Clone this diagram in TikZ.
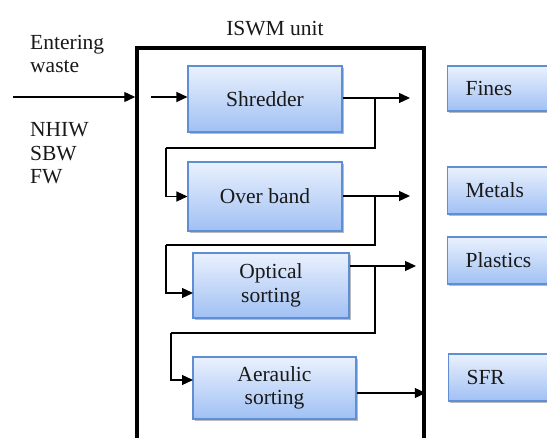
\documentclass[tikz,border=0pt]{standalone}
\usepackage{fontspec}
\setmainfont{Liberation Serif}
\usetikzlibrary{arrows.meta,shadows}
\definecolor{boxtop}{RGB}{234,241,253}
\definecolor{boxbot}{RGB}{160,192,244}
\definecolor{boxline}{RGB}{95,142,212}
\tikzset{
  txt/.style={font=\fontsize{21.5}{23.5}\selectfont, inner sep=0pt, text=black!90},
  pbox/.style={txt, draw=boxline, line width=1.1pt, top color=boxtop, bottom color=boxbot,
     align=center, drop shadow={shadow xshift=1.6pt, shadow yshift=-1.6pt, fill=black!45, opacity=0.6}},
  obox/.style={pbox, anchor=west, minimum height=46pt, text width=112pt, inner xsep=18pt, align=left},
  arr/.style={line width=1.3pt, -{Triangle[length=11pt,width=10pt]}},
  ln/.style={line width=1.3pt},
}
\begin{document}
\begin{tikzpicture}[x=1pt,y=-1pt]
\useasboundingbox (0,0) rectangle (547,438);
\clip (0,0) rectangle (547,438);
\fill[white] (0,0) rectangle (547,438);
% unit box
\node[draw, line width=3.5pt, minimum width=287pt, minimum height=392.5pt, inner sep=0pt] (unit) at (280.5,244.25) {};
\node[txt, anchor=base] (title) at (275,36) {ISWM unit};
\node[txt, anchor=north west, align=left] (enter) at (30,35) {Entering\\waste};
\node[txt, anchor=north west, align=left] (types) at (30,122.5) {NHIW\\SBW\\FW};
% process boxes
\node[pbox, minimum width=154pt, minimum height=66pt] (shred) at (265,99) {Shredder};
\node[pbox, minimum width=154pt, minimum height=69pt] (band) at (265,196.5) {Over band};
\node[pbox, minimum width=156pt, minimum height=65pt] (opt) at (271,285.5) {Optical\\sorting};
\node[pbox, minimum width=163pt, minimum height=62pt] (aer) at (274.5,388) {Aeraulic\\sorting};
% output boxes
\node[obox, minimum height=45pt] (fines) at (447,88.5) {Fines};
\node[obox, minimum height=47pt] (metals) at (447,190.5) {Metals};
\node[obox, minimum height=47pt] (plast) at (447,260.5) {Plastics};
\node[obox, minimum height=47pt] (sfr) at (448,377.5) {SFR};
% coordinates
\coordinate (in0) at (13,97);
\coordinate (in1) at (151,97);
\coordinate (o1) at (410,98);
\coordinate (j1) at (375,98);
\coordinate (b1) at (166,148);
\coordinate (o2) at (410,196);
\coordinate (j2) at (375,196);
\coordinate (b2) at (166,245);
\coordinate (e3) at (193,293);
\coordinate (o3) at (416,266);
\coordinate (j3) at (375,266);
\coordinate (b3) at (171,333);
\coordinate (e4) at (193,380);
\coordinate (s4) at (356,393);
% connectors
\draw[arr] (in0) -- (unit.west |- in0);
\draw[arr] (in1) -- (shred.west |- in1);
\draw[arr] (shred.east |- o1) -- (o1);
\draw[ln] (j1) -- (j1 |- b1) -- (b1);
\draw[arr] (b1) |- (band.west);
\draw[arr] (band.east |- o2) -- (o2);
\draw[ln] (j2) -- (j2 |- b2) -- (b2);
\draw[arr] (b2) |- (e3);
\draw[arr] (opt.east |- o3) -- (o3);
\draw[ln] (j3) -- (j3 |- b3) -- (b3);
\draw[arr] (b3) |- (e4);
\draw[arr] (aer.east |- s4) -- (unit.east |- s4);
\end{tikzpicture}
\end{document}
